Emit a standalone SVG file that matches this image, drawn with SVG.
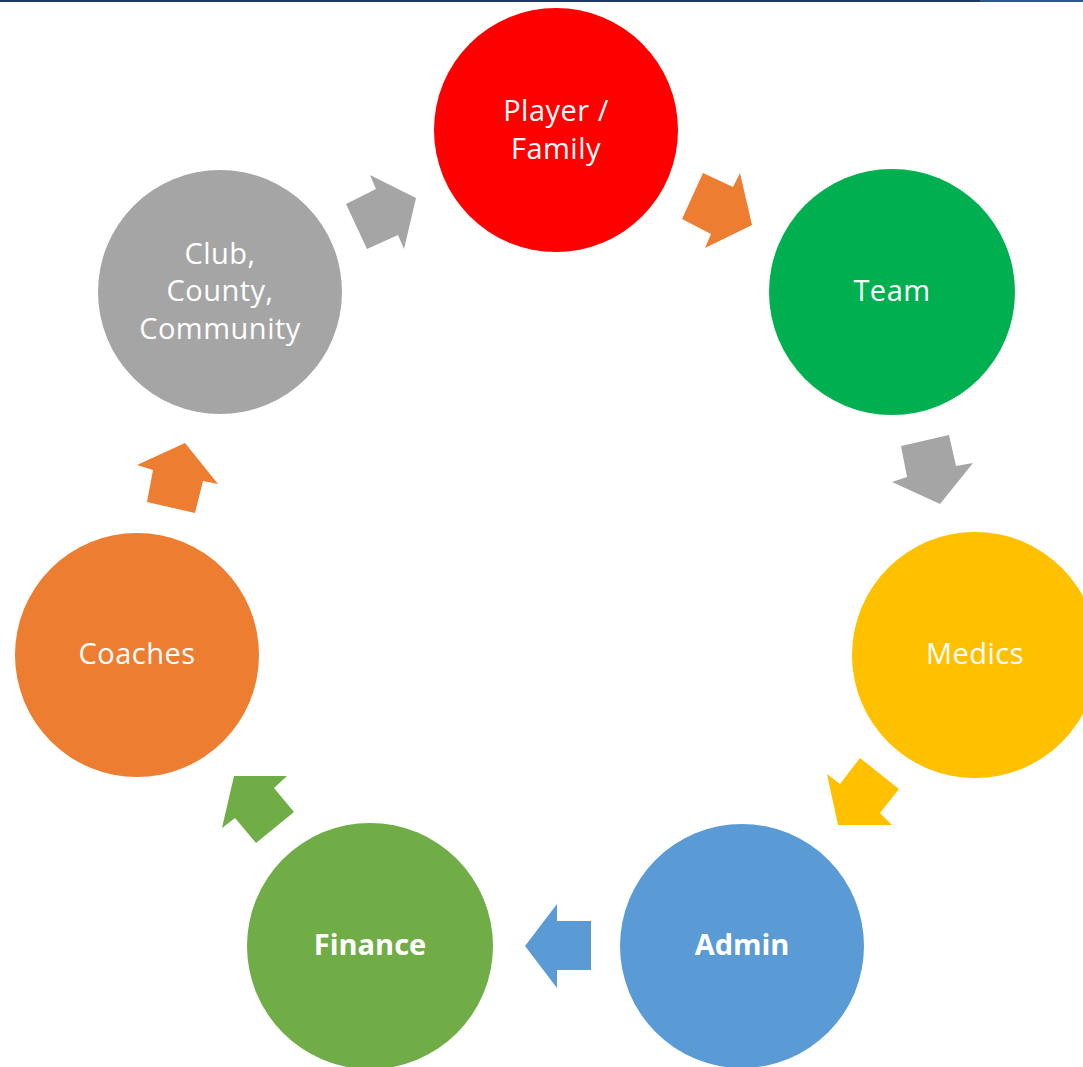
<svg xmlns="http://www.w3.org/2000/svg" width="1083" height="1067" viewBox="0 0 1083 1067">
<style>
.lbl{font-family:"Open Sans","Liberation Sans",sans-serif;font-size:29px;letter-spacing:0.5px;fill:#fff;text-anchor:middle}
.b{font-weight:bold;letter-spacing:0}
</style>
<rect width="1083" height="1067" fill="#fff"/>
<rect x="0" y="0" width="980" height="2" fill="#1F3864"/>
<rect x="980" y="0" width="103" height="2" fill="#2F5597"/>
<g id="connectors">
<polygon points="370,175 376,189 346,204 367,249 398,235 404,249 416,198" fill="#A5A5A5"/>
<polygon points="682,219 703,173 733,187 740,173 752,225 705,248 711,234" fill="#ED7D31"/>
<polygon points="901,446 949,435 956,466 973,463 940,504 892,482 907,477" fill="#A5A5A5"/>
<polygon points="860,758 899,789 880,813 892,825 838,825 827,774 840,784" fill="#FFC000"/>
<polygon points="525,946 557,904 557,921 591,921 591,970 557,970 557,988" fill="#5B9BD5"/>
<polygon points="234,776 287,776 274,788 294,812 256,843 235,818 222,828" fill="#70AD47"/>
<polygon points="185,443 218,484 203,481 195,513 147,502 153,470 137,465" fill="#ED7D31"/>
</g>
<g id="player">
<circle cx="556" cy="130" r="122" fill="#FF0000"/>
<text class="lbl" x="556" y="121">Player /</text>
<text class="lbl" x="556" y="159">Family</text>
</g>
<g id="team">
<circle cx="892" cy="292" r="123" fill="#00B050"/>
<text class="lbl" x="892" y="301">Team</text>
</g>
<g id="medics">
<circle cx="975" cy="655" r="123" fill="#FFC000"/>
<text class="lbl" x="975" y="664">Medics</text>
</g>
<g id="admin">
<circle cx="742" cy="946" r="122" fill="#5B9BD5"/>
<text class="lbl b" x="742" y="955">Admin</text>
</g>
<g id="finance">
<circle cx="370" cy="946" r="123" fill="#70AD47"/>
<text class="lbl b" x="370" y="955">Finance</text>
</g>
<g id="coaches">
<circle cx="137" cy="655" r="122" fill="#ED7D31"/>
<text class="lbl" x="137" y="664">Coaches</text>
</g>
<g id="club">
<circle cx="220" cy="292" r="122" fill="#A5A5A5"/>
<text class="lbl" x="220" y="264">Club,</text>
<text class="lbl" x="220" y="301">County,</text>
<text class="lbl" x="220" y="339">Community</text>
</g>
</svg>
